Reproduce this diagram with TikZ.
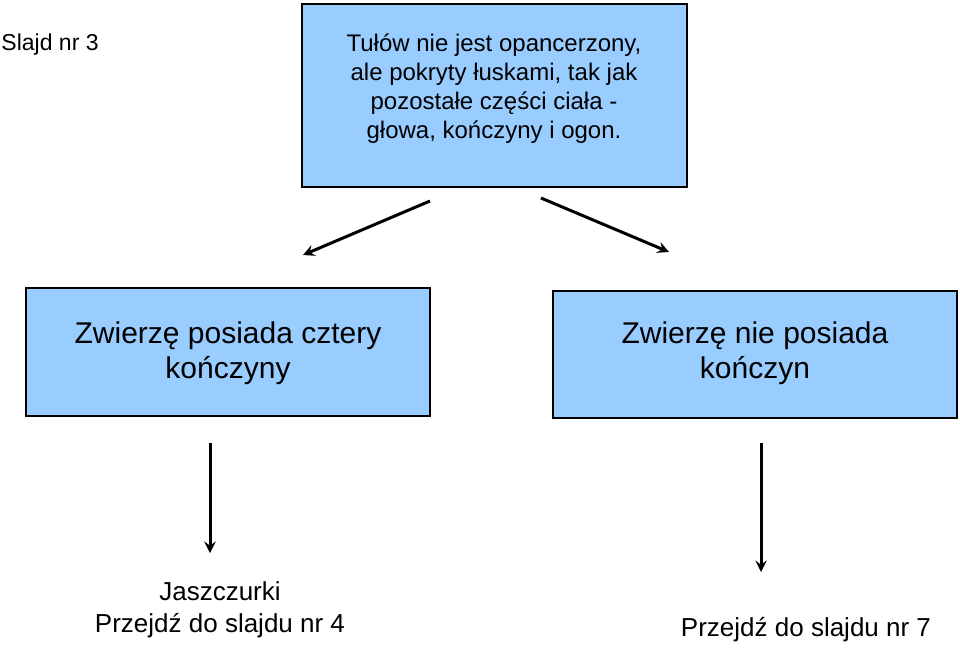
\documentclass[tikz,border=0pt]{standalone}
\usepackage{fontspec}
\setmainfont{Liberation Sans}
\usetikzlibrary{arrows,positioning}
\definecolor{boxblue}{HTML}{99CCFF}
\begin{document}
\begin{tikzpicture}[x=0.5pt, y=-0.5pt, >=stealth, line width=1.5pt]
   \useasboundingbox (0,0) rectangle (960,649);
   \tikzset{box/.style={draw=black, line width=0.6pt, fill=boxblue}}
   \begin{scope}
    \draw[box] (302,4) rectangle (687,187);
    \draw[box] (26,288) rectangle (430,416);
    \draw[box] (553,291) rectangle (957,418);
   \end{scope}
   \begin{scope}[every node/.style={align=center, inner sep=0pt}]
    \node (slajd) [anchor=west, font=\fontsize{11.5}{14}\selectfont] at (0,45) {Slajd nr 3};
    \node (tulow) [font=\fontsize{12}{14.5}\selectfont] at (494,89)
      {Tułów nie jest opancerzony,\\ale pokryty łuskami, tak jak\\pozostałe części ciała -\\głowa, kończyny i ogon.};
    \node (cztery) [font=\fontsize{15}{17.5}\selectfont] at (228,353) {Zwierzę posiada cztery\\kończyny};
    \node (brak) [font=\fontsize{15}{17.5}\selectfont] at (755,353) {Zwierzę nie posiada\\kończyn};
    \node (jaszcz) [font=\fontsize{13}{16}\selectfont] at (220,610) {Jaszczurki\\Przejdź do slajdu nr 4};
    \node (nr7) [font=\fontsize{13}{16}\selectfont] at (806,630) {Przejdź do slajdu nr 7};
   \end{scope}
   \begin{scope}
    \coordinate (a1) at (430,201);
    \coordinate (a2) at (303,255);
    \coordinate (b1) at (541,198);
    \coordinate (b2) at (669,252);
    \coordinate (c1) at (210,443);
    \coordinate (c2) at (210,553);
    \coordinate (d1) at (761,443);
    \coordinate (d2) at (761,572);
    \draw[->] (a1) -- (a2);
    \draw[->] (b1) -- (b2);
    \draw[->] (c1) -- (c2);
    \draw[->] (d1) -- (d2);
   \end{scope}
\end{tikzpicture}
\end{document}
